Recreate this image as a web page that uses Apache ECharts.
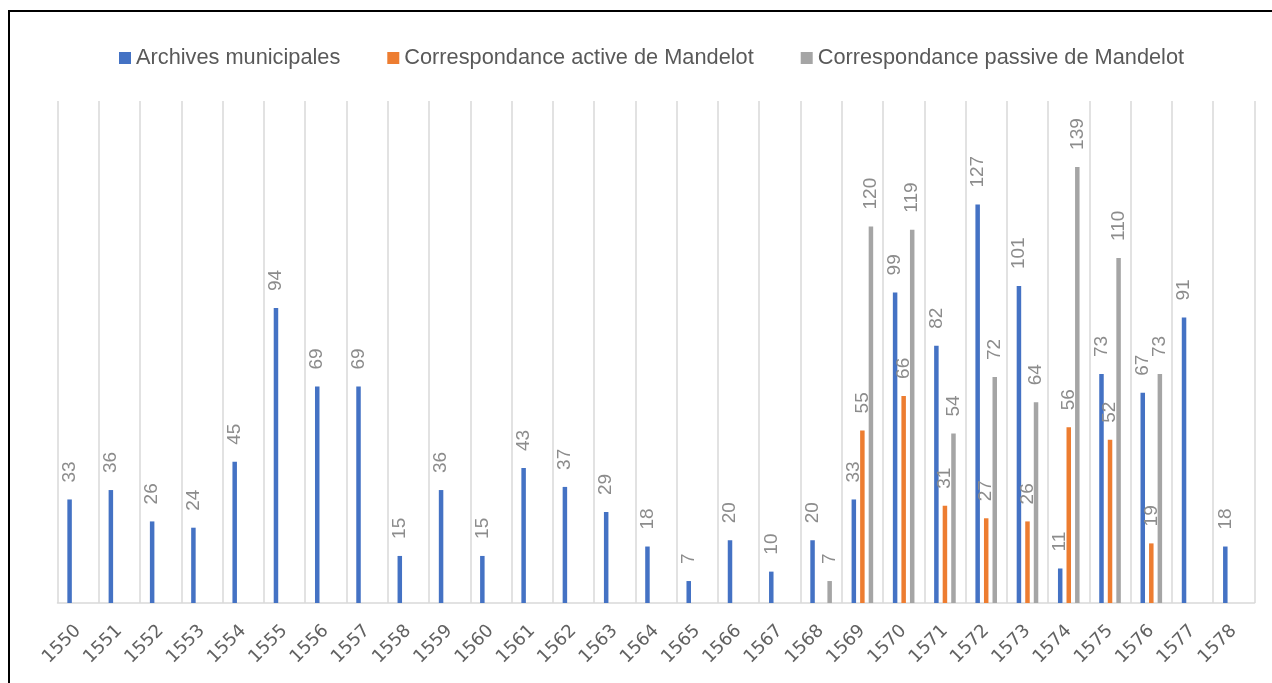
<!DOCTYPE html>
<html>
<head>
<meta charset="utf-8">
<script src="https://cdn.jsdelivr.net/npm/echarts@6/dist/echarts.min.js"></script>
<style>
html,body{margin:0;padding:0;background:#fff;}
#chart{width:1272px;height:683px;}
</style>
</head>
<body>
<div id="chart"></div>
<script>
const categories = ['1550','1551','1552','1553','1554','1555','1556','1557','1558','1559','1560','1561','1562','1563','1564','1565','1566','1567','1568','1569','1570','1571','1572','1573','1574','1575','1576','1577','1578'];
const archives = [33,36,26,24,45,94,69,69,15,36,15,43,37,29,18,7,20,10,20,33,99,82,127,101,11,73,67,91,18];
const active = [null,null,null,null,null,null,null,null,null,null,null,null,null,null,null,null,null,null,null,55,66,31,27,26,56,52,19,null,null];
const passive = [null,null,null,null,null,null,null,null,null,null,null,null,null,null,null,null,null,null,7,120,119,54,72,64,139,110,73,null,null];
const seriesNames = ['Archives municipales','Correspondance active de Mandelot','Correspondance passive de Mandelot'];
const colors = ['#4472C4','#ED7D31','#A5A5A5'];

const FONT = 'Liberation Sans';
const chart = echarts.init(document.getElementById('chart'));
const labelCfg = {
  show: true,
  position: 'top',
  rotate: 90,
  align: 'left',
  verticalAlign: 'middle',
  distance: 17,
  color: '#8c8c8c',
  fontSize: 19,
  fontFamily: FONT
};
function mk(i, data){
  return {
    name: seriesNames[i],
    type: 'bar',
    data: data,
    barWidth: 4.5,
    barGap: '90%',
    itemStyle: {color: colors[i]},
    label: labelCfg
  };
}
chart.setOption({
  animation: false,
  color: colors,
  graphic: [{
    type: 'rect',
    shape: {x: 9, y: 11, width: 1300, height: 700},
    style: {fill: 'none', stroke: '#000', lineWidth: 2},
    silent: true
  }],
  legend: {
    left: 114,
    top: 42,
    itemWidth: 12,
    itemHeight: 12,
    itemGap: 47,
    icon: 'rect',
    textStyle: {color: '#595959', fontSize: 21.75, fontFamily: FONT},
    data: seriesNames
  },
  grid: {left: 57.5, right: 17.5, top: 101, bottom: 80, containLabel: false},
  xAxis: {
    type: 'category',
    data: categories,
    axisLine: {lineStyle: {color: '#d9d9d9', width: 1.5}},
    axisTick: {show: false},
    splitLine: {show: true, lineStyle: {color: '#d9d9d9', width: 1.5}},
    axisLabel: {rotate: 45, color: '#626262', fontSize: 18, fontFamily: 'DejaVu Sans', margin: 25, interval: 0}
  },
  yAxis: {
    type: 'value',
    min: 0,
    max: 160,
    show: false,
    splitLine: {show: false}
  },
  series: [mk(0, archives), mk(1, active), mk(2, passive)]
});
</script>
</body>
</html>
